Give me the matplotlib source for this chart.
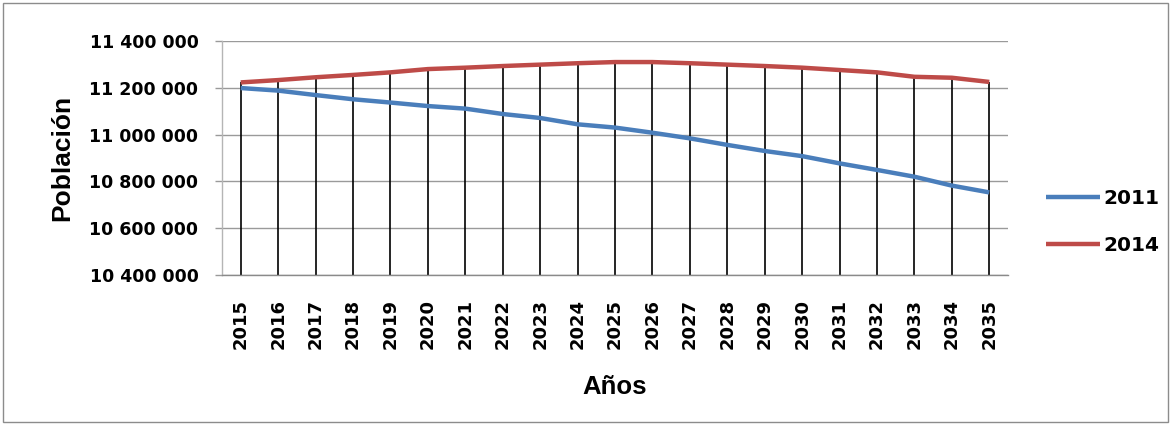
import numpy as np
import matplotlib
matplotlib.use("Agg")
import matplotlib.pyplot as plt
from matplotlib.patches import Rectangle
from matplotlib.ticker import FuncFormatter

# data
years = list(range(2015, 2036))
pob_2011 = [11199000, 11188000, 11169000, 11151000, 11137000, 11122000, 11111000,
            11088000, 11071000, 11044000, 11030000, 11008000, 10984000, 10956000,
            10930000, 10908000, 10877000, 10849000, 10820000, 10782000, 10753000]
pob_2014 = [11223000, 11233000, 11245000, 11255000, 11266000, 11280000, 11286000,
            11293000, 11299000, 11305000, 11310000, 11310000, 11305000, 11299000,
            11293000, 11286000, 11276000, 11266000, 11247000, 11243000, 11225000]
y_ticks = [10400000, 10600000, 10800000, 11000000, 11200000, 11400000]

plt.rcParams['font.family'] = ['DejaVu Sans']
plt.rcParams['font.weight'] = 'bold'

fig = plt.figure(figsize=(11.72, 4.24), dpi=100)
ax = fig.add_axes([222/1172, 1-275/424, 786/1172, (275-41)/424])

x = np.arange(len(years))
top = np.maximum(pob_2011, pob_2014)

# drop lines from the top series down to the axis
ax.vlines(x, y_ticks[0], top, colors='black', linewidth=1.2, zorder=2)

l1, = ax.plot(x, pob_2011, color='#4a7ebb', linewidth=3.2, label='2011', zorder=3,
              solid_capstyle='butt')
l2, = ax.plot(x, pob_2014, color='#be4b48', linewidth=3.2, label='2014', zorder=3,
              solid_capstyle='butt')

ax.set_ylim(y_ticks[0], y_ticks[-1])
ax.set_yticks(y_ticks)
ax.yaxis.set_major_formatter(FuncFormatter(lambda v, p: f"{v:,.0f}".replace(',', ' ')))
ax.set_xlim(-0.5, 20.5)
ax.set_xticks(x)
ax.set_xticklabels([str(y) for y in years], rotation=90, va='top', ha='center',
                   fontsize=13, fontweight='bold')

ax.grid(axis='y', color='#9a9a9a', linewidth=1)
ax.set_axisbelow(True)
for s in ['top', 'right']:
    ax.spines[s].set_visible(False)
ax.spines['bottom'].set_color('#8a8a8a')
ax.spines['bottom'].set_linewidth(1)
ax.spines['left'].set_color('#b5b5b5')
ax.spines['left'].set_linewidth(1)

ax.tick_params(axis='y', length=5, width=1, color='#9a9a9a', pad=12, labelsize=12.5)
ax.tick_params(axis='x', length=0, pad=17)

ax.set_ylabel('Población', family='Liberation Sans', fontsize=19, fontweight='bold', labelpad=11)
ax.set_xlabel('Años', family='Liberation Sans', fontsize=18.5, fontweight='bold', labelpad=19)

leg = ax.legend(handles=[l1, l2], loc='center left',
                bbox_to_anchor=(1046/1172, 1-222/424), bbox_transform=fig.transFigure,
                frameon=False, fontsize=14.5, handlelength=2.7, handletextpad=0.15,
                labelspacing=1.4, borderpad=0, borderaxespad=0)
for t in leg.get_texts():
    t.set_fontweight('bold')

fig.patches.append(Rectangle((3/1172, 2/424), 1165/1172, 419/424, transform=fig.transFigure,
                             fill=False, edgecolor='#8c8c8c', linewidth=1))

fig.savefig('out.png', dpi=100)
